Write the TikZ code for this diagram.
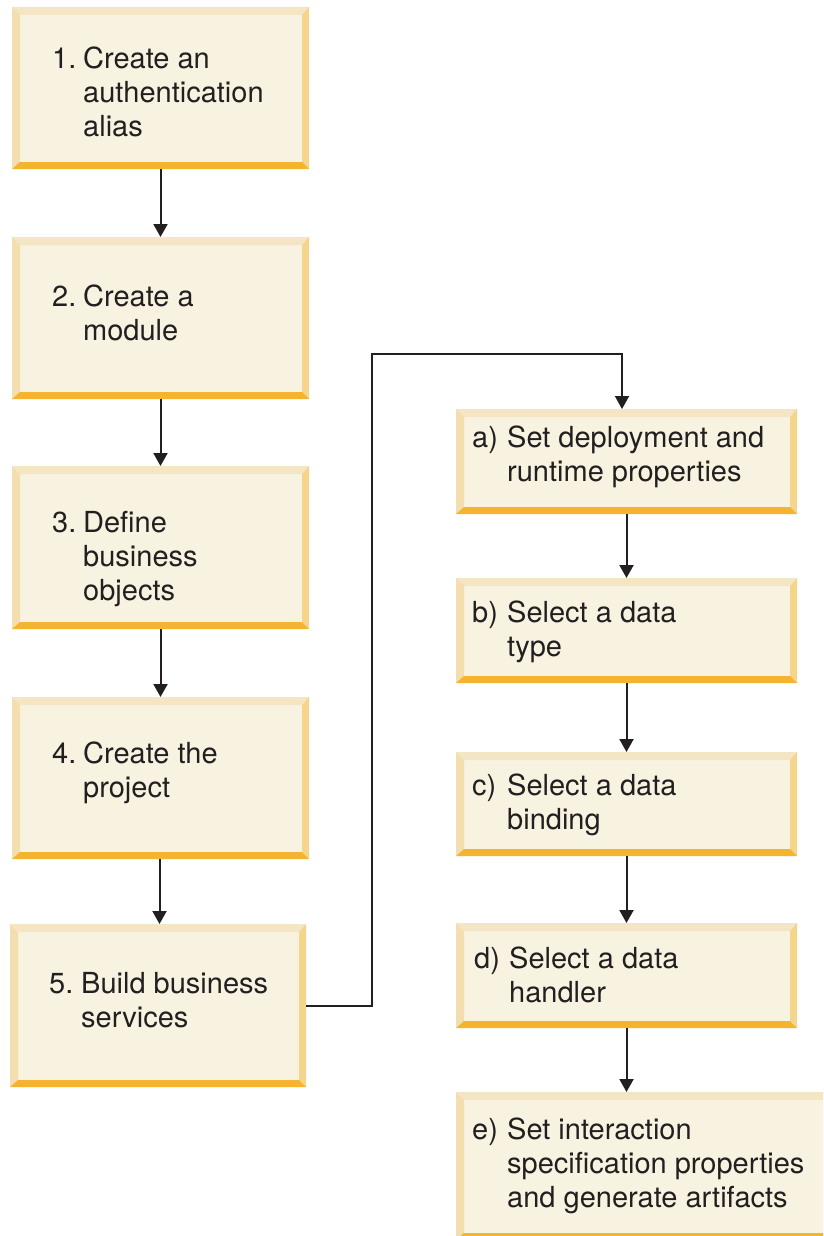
\documentclass[tikz,border=0pt]{standalone}
\usepackage{fontspec}
\setmainfont{TeX Gyre Heros}
\usetikzlibrary{arrows.meta,fit}
\definecolor{fillc}{HTML}{F8F2E1}
\definecolor{topc}{HTML}{F4E6C4}
\definecolor{leftc}{HTML}{F3DEB0}
\definecolor{rightc}{HTML}{F5D48C}
\definecolor{botc}{HTML}{F4B42F}
\definecolor{ink}{HTML}{231F20}
\tikzset{
  boxarea/.style={inner sep=0pt, outer sep=0pt},
  txt/.style={anchor=base west, inner sep=0pt, text=ink, font=\fontsize{29}{34}\selectfont},
  arr/.style={draw=ink, line width=2pt, -{Triangle[width=14pt,length=13pt]}},
  conn/.style={draw=ink, line width=2pt}
}
\newcommand\stepbox[5]{%
  \node[boxarea, fit={(#2,#3) (#4,#5)}] (#1) {};
  \fill[fillc] (#1.north west) rectangle (#1.south east);
  \fill[topc] (#1.north west) -- (#1.north east) -- ([shift={(-7,8)}]#1.north east) -- ([shift={(8,8)}]#1.north west) -- cycle;
  \fill[leftc] (#1.north west) -- ([shift={(8,8)}]#1.north west) -- ([shift={(8,-7)}]#1.south west) -- (#1.south west) -- cycle;
  \fill[rightc] (#1.north east) -- (#1.south east) -- ([shift={(-7,-7)}]#1.south east) -- ([shift={(-7,8)}]#1.north east) -- cycle;
  \fill[botc] (#1.south west) -- (#1.south east) -- ([shift={(-7,-7)}]#1.south east) -- ([shift={(8,-7)}]#1.south west) -- cycle;
}
\newcommand\steptext[6]{%
  \node[txt] (#1) at (#2,#3) {\begin{tabular}[t]{@{}p{#4pt}@{}l@{}}#5&#6\end{tabular}};
}
\begin{document}
\begin{tikzpicture}[x=1pt,y=-1pt]
\useasboundingbox (0,0) rectangle (823,1236);
\clip (0,0) rectangle (823,1236);
\fill[white] (0,0) rectangle (823,1236);

% left column
\stepbox{b1}{12}{7}{309}{169}
\stepbox{b2}{12}{237}{309}{399}
\stepbox{b3}{12}{466}{309}{629}
\stepbox{b4}{12}{697}{309}{859}
\stepbox{b5}{10}{924}{306}{1087}
% right column
\stepbox{ba}{456}{409}{797}{514}
\stepbox{bb}{456}{578}{797}{683}
\stepbox{bc}{456}{752}{797}{856}
\stepbox{bd}{456}{923}{797}{1028}
\stepbox{be}{456}{1092}{832}{1240}

\steptext{t1}{52}{69}{31}{1.}{Create an\\&authentication\\&alias}
\steptext{t2}{52}{306}{31}{2.}{Create a\\&module}
\steptext{t3}{52}{532}{31}{3.}{Define\\&business\\&objects}
\steptext{t4}{52}{763}{31}{4.}{Create the\\&project}
\steptext{t5}{49}{993}{32}{5.}{Build business\\&services}
\steptext{ta}{472}{447}{35}{a)}{Set deployment and\\&runtime properties}
\steptext{tb}{472}{622}{35}{b)}{Select a data\\&type}
\steptext{tc}{472}{795}{35}{c)}{Select a data\\&binding}
\steptext{td}{474}{968}{35}{d)}{Select a data\\&handler}
\steptext{te}{472}{1139}{35}{e)}{Set interaction\\&specification properties\\&and generate artifacts}

% connectors
\draw[arr] (b1.south) -- (b2.north);
\draw[arr] (b2.south) -- (b3.north);
\draw[arr] (b3.south) -- (b4.north);
\draw[arr] ([xshift=-1pt]b4.south) -- ([xshift=-1pt]b4.south |- b5.north);
\coordinate (l1) at (372,354);
\coordinate (l2) at (622,354);
\draw[arr] (b5.east) -| (l1) -- (l2) -- (l2 |- ba.north);
\draw[arr] (ba.south) -- (bb.north);
\draw[arr] (bb.south) -- (bc.north);
\draw[arr] (bc.south) -- (bd.north);
\draw[arr] (bd.south) -- (bd.south |- be.north);
\end{tikzpicture}
\end{document}
